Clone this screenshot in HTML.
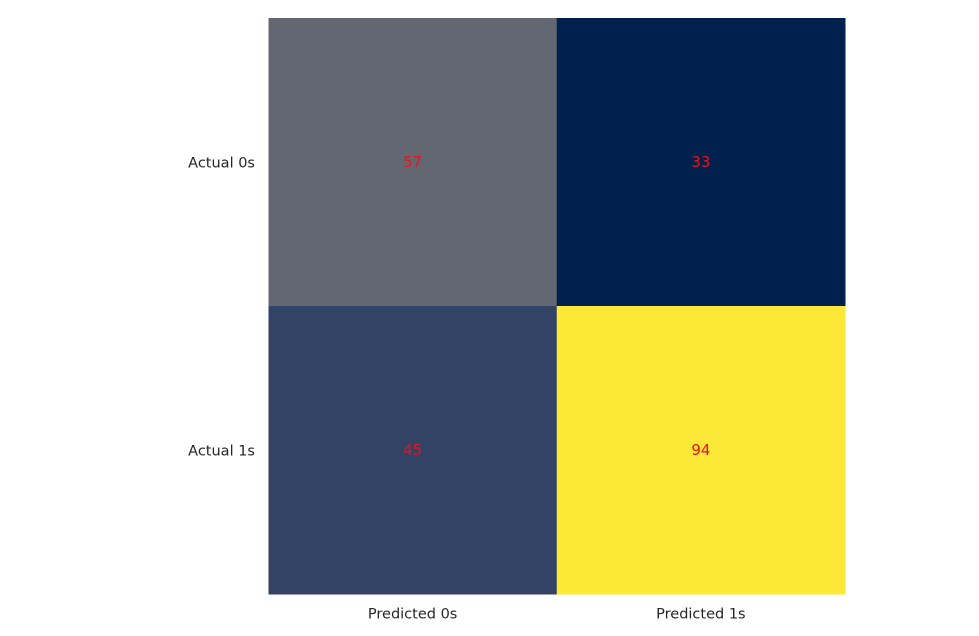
<!DOCTYPE html>
<html><head><meta charset="utf-8">
<style>
html,body{margin:0;padding:0;background:#fff;}
body{width:979px;height:631px;overflow:hidden;}
text{font-family:"DejaVu Sans","Liberation Sans",sans-serif;}
</style></head>
<body>
<svg id="chart" width="979" height="631" xmlns="http://www.w3.org/2000/svg"></svg>
<script>
const rowLabels = ["Actual 0s", "Actual 1s"];
const colLabels = ["Predicted 0s", "Predicted 1s"];
const row0Values = [57, 33];
const row1Values = [45, 94];

const values = [row0Values, row1Values];
const svg = document.getElementById('chart');
const NS = 'http://www.w3.org/2000/svg';
const x0 = 268.5, x1 = 845, y0 = 18, y1 = 594;
const cw = (x1 - x0) / colLabels.length, ch = (y1 - y0) / rowLabels.length;
const xPos = c => x0 + c * cw;
const yPos = r => y0 + r * ch;

const stops = [[0,[0,32,77]],[0.25,[65,77,107]],[0.5,[124,123,120]],[0.75,[188,175,111]],[1,[253,231,55]]];
function cividis(t){
  t = Math.max(0, Math.min(1, t));
  for (let i = 1; i < stops.length; i++) {
    if (t <= stops[i][0]) {
      const a = stops[i-1], b = stops[i], f = (t - a[0]) / (b[0] - a[0]);
      const c = a[1].map((v, k) => Math.round(v + f * (b[1][k] - v)));
      return `rgb(${c[0]},${c[1]},${c[2]})`;
    }
  }
  return 'rgb(253,231,55)';
}
const flat = values.flat();
const vmin = Math.min(...flat), vmax = Math.max(...flat);

function mk(tag, attrs){ const e = document.createElementNS(NS, tag); for (const k in attrs) e.setAttribute(k, attrs[k]); svg.appendChild(e); return e; }

values.forEach((row, r) => {
  row.forEach((v, c) => {
    const rect = mk('rect', {x: xPos(c), y: yPos(r), width: cw + 0.5, height: ch + 0.5, fill: cividis((v - vmin) / (vmax - vmin || 1))});
    
    
    const t = mk('text', {x: xPos(c) + cw / 2, y: yPos(r) + ch / 2 + 5, 'text-anchor': 'middle', 'font-size': '15', fill: '#e8141c'});
    t.textContent = v;
    
    
  });
});
rowLabels.forEach((lab, r) => {
  const t = mk('text', {x: 255, y: yPos(r) + ch / 2 + 5.5, 'text-anchor': 'end', 'font-size': '14.5', fill: '#262626'});
  t.textContent = lab;
  
  
});
colLabels.forEach((lab, c) => {
  const t = mk('text', {x: xPos(c) + cw / 2, y: 618.5, 'text-anchor': 'middle', 'font-size': '14.5', fill: '#262626'});
  t.textContent = lab;
  
  
});
</script>
</body></html>
